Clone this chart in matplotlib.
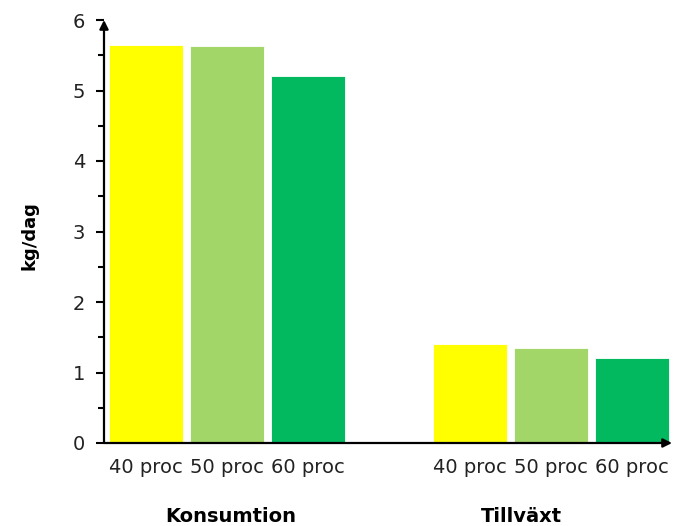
import matplotlib
matplotlib.use("Agg")
import matplotlib.pyplot as plt
from matplotlib.transforms import blended_transform_factory

groups = ["Konsumtion", "Tillväxt"]
levels = ["40 proc", "50 proc", "60 proc"]
konsumtion = [5.64, 5.63, 5.21]
tillvaxt = [1.40, 1.35, 1.21]
colors = ["#FFFF00", "#A2D668", "#02B960"]

plt.rcParams['font.family'] = ['DejaVu Sans']

fig = plt.figure(figsize=(6.74, 5.26), dpi=100)
ax = fig.add_axes([104/674, 83/526, 568/674, 423/526])

positions = [0, 1, 2, 4, 5, 6]
values = konsumtion + tillvaxt
bar_colors = colors + colors
labels = levels + levels
ax.bar(positions, values, width=0.914, color=bar_colors, edgecolor="white", linewidth=0.6, zorder=2)

ax.set_xlim(-0.519, 6.494)
ax.set_ylim(0, 6)

ax.set_yticks(range(0, 7))
ax.set_yticks([0.5 + i for i in range(6)], minor=True)
ax.tick_params(axis='y', which='major', length=5.5, width=1.5, direction='out', pad=8,
               labelsize=14, labelcolor='#222222')
ax.tick_params(axis='y', which='minor', length=4, width=1.5, direction='out')

ax.set_xticks(positions)
ax.set_xticklabels(labels)
ax.tick_params(axis='x', length=0, pad=11, labelsize=14, labelcolor='#222222')

for s in ax.spines.values():
    s.set_visible(False)

# axis lines with arrowheads
ax.annotate('', xy=(1.0, 0), xytext=(0, 0), xycoords='axes fraction', textcoords='axes fraction',
            arrowprops=dict(arrowstyle='-|>', lw=1.6, color='black', mutation_scale=13,
                            shrinkA=0, shrinkB=0), zorder=5, annotation_clip=False)
ax.annotate('', xy=(0, 1.0), xytext=(0, 0), xycoords='axes fraction', textcoords='axes fraction',
            arrowprops=dict(arrowstyle='-|>', lw=1.6, color='black', mutation_scale=13,
                            shrinkA=0, shrinkB=0), zorder=5, annotation_clip=False)

trans = blended_transform_factory(ax.transData, fig.transFigure)
ax.text(1.04, 10/526, groups[0], transform=trans, ha='center', va='center',
        fontsize=14, fontweight='bold', color='black')
ax.text(4.63, 10/526, groups[1], transform=trans, ha='center', va='center',
        fontsize=14, fontweight='bold', color='black')

fig.text(30/674, 1 - 236/526, "kg/dag", rotation=90, ha='center', va='center',
         fontsize=13, fontweight='bold', color='black')

fig.savefig("out.png", dpi=100)
